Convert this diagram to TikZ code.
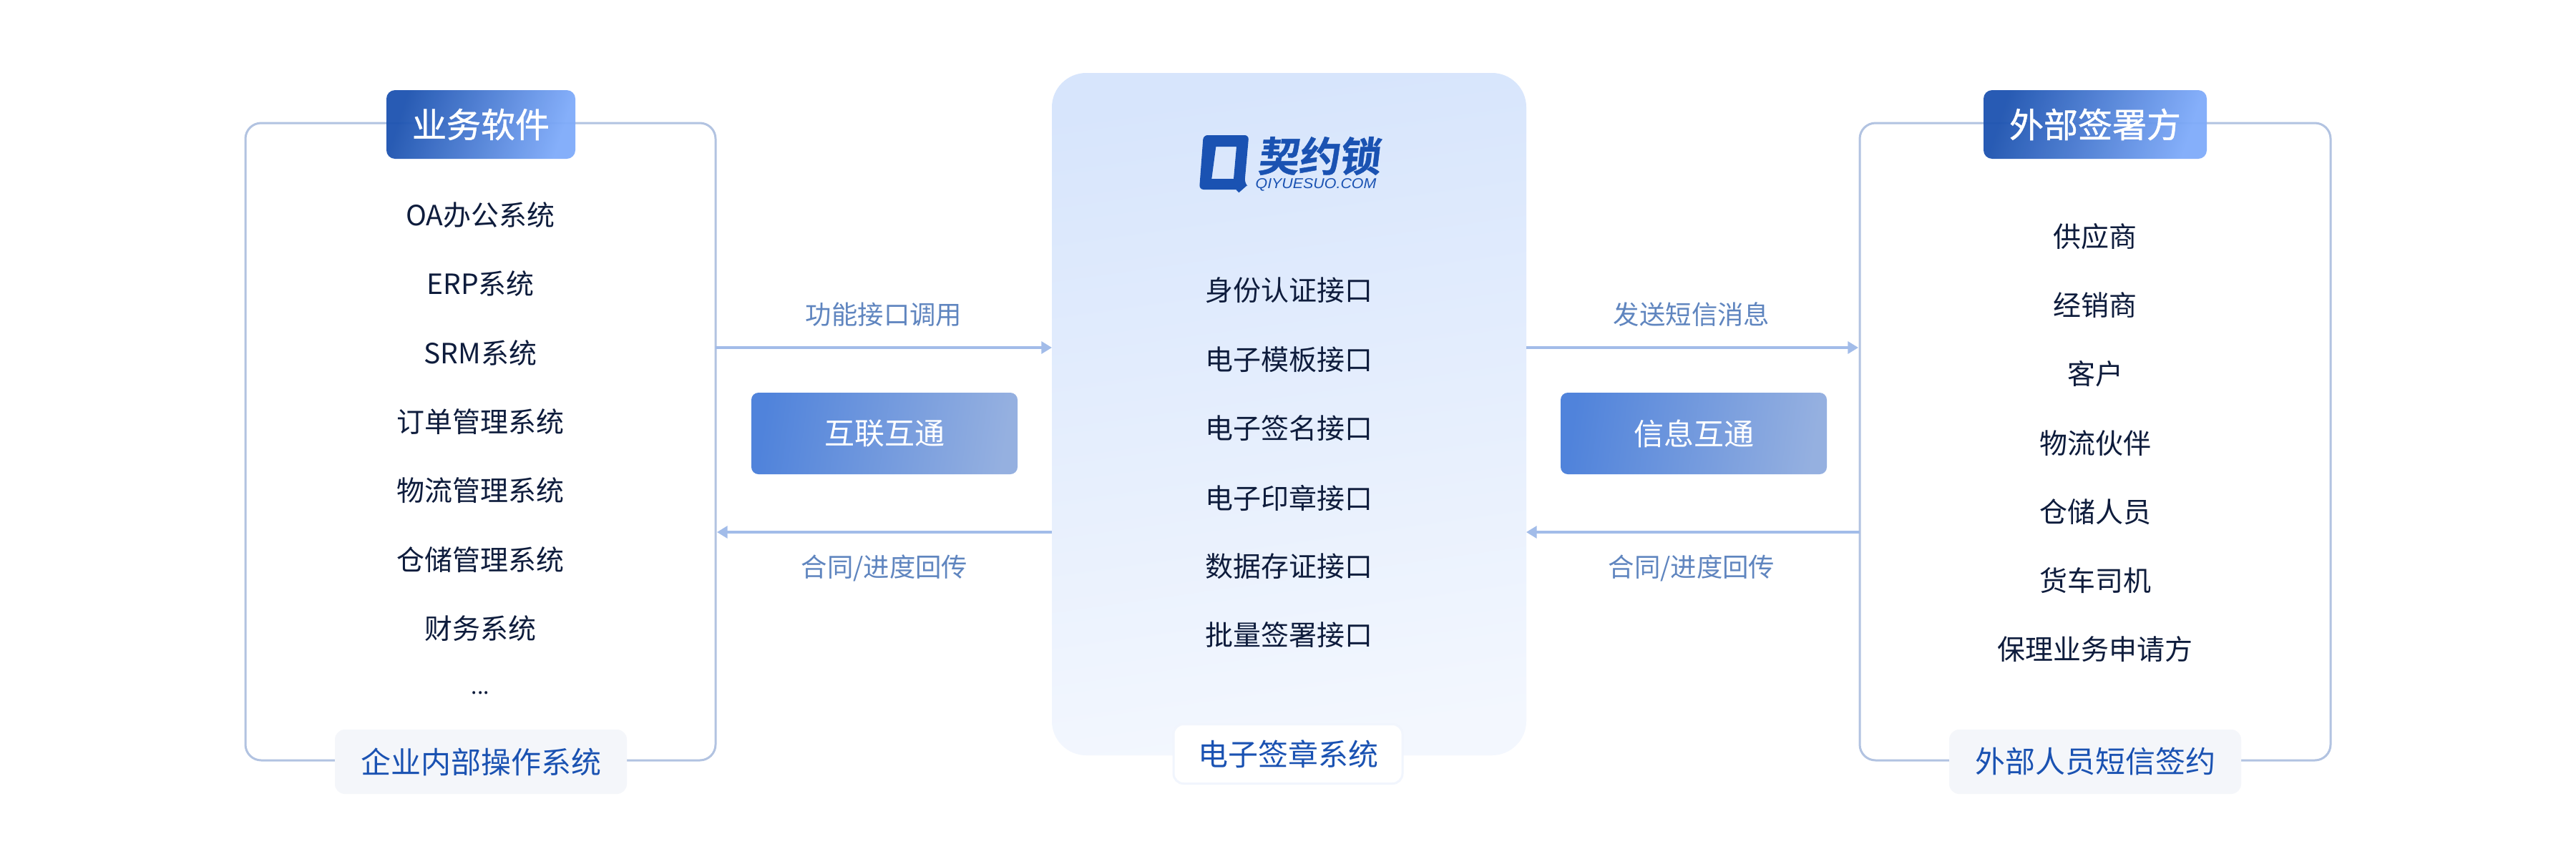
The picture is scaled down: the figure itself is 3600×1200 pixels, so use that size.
\documentclass[tikz,border=0pt]{standalone}
\usepackage{fontspec}
\usetikzlibrary{arrows.meta,calc,shadings}
\setmainfont{Noto Sans CJK SC}
\newfontfamily\cjkmed[FakeBold=1]{Noto Sans CJK SC}
\newfontfamily\logobold[FakeSlant=0.12,FakeBold=0.8]{Noto Sans CJK SC Bold}
\newfontfamily\logolat[FakeStretch=1.07]{Liberation Sans Italic}
\definecolor{panelline}{HTML}{B2C3E1}
\definecolor{arrowcol}{HTML}{A2BCE9}
\definecolor{ink}{HTML}{0E1C3C}
\definecolor{brand}{HTML}{1A52B2}
\definecolor{softlabel}{HTML}{5F85BF}
\definecolor{tagbg}{HTML}{F4F6FA}
\definecolor{tagedge}{HTML}{F1F5FD}
\newcommand{\fpx}[1]{\fontsize{\dimexpr #1pt*3/4\relax}{\dimexpr #1pt*9/10\relax}\selectfont}
\tikzset{
  every node/.style={inner sep=0pt,outer sep=0pt},
  sidepanel/.style={draw=panelline,line width=2.25pt,rounded corners=16.5pt,fill=white,minimum width=492.75pt,minimum height=668.25pt},
  centerpanel/.style={rounded corners=36pt,minimum width=497.25pt,minimum height=715.5pt,top color=D8top,bottom color=D8bot,shading angle=8},
  badge/.style={rounded corners=9pt,minimum height=72pt,left color=badgeA,right color=badgeB,shading angle=72,fill opacity=0.95,text opacity=1,text=white,font=\cjkmed\fpx{48}},
  midbox/.style={rounded corners=7.5pt,minimum width=279pt,minimum height=85.5pt,left color=midA,right color=midB,shading angle=82,text=white,font=\fpx{42}},
  tagbox/.style={rounded corners=10.5pt,minimum height=67.5pt,fill=tagbg,text=brand,font=\fpx{42}},
  centertag/.style={rounded corners=10.5pt,minimum width=240pt,minimum height=62.25pt,fill=white,draw=tagedge,line width=2.25pt,text=brand,font=\fpx{42}},
  item/.style={text=ink,font=\fpx{39}},
  linklabel/.style={text=softlabel,font=\fpx{36.4}},
  conn/.style={draw=arrowcol,line width=2.4pt,-{Triangle[length=11pt,width=12.75pt]}},
}
\definecolor{D8top}{HTML}{D7E5FC}
\definecolor{D8bot}{HTML}{F3F7FE}
\definecolor{badgeA}{HTML}{1D53B0}
\definecolor{badgeB}{HTML}{7FABFA}
\definecolor{midA}{HTML}{5083DB}
\definecolor{midB}{HTML}{95B0E0}
\begin{document}
\begin{tikzpicture}[x=0.75pt,y=-0.75pt]
\useasboundingbox (0,0) rectangle (3600,1200);
\fill[white] (0,0) rectangle (3600,1200);
% panels
\node[sidepanel] (lp) at (671.5,617.5) {};
\node[sidepanel,minimum width=493.5pt] (rp) at (2928,617.5) {};
\node[centerpanel] (cp) at (1801.5,579) {};
% badges
\node[badge,minimum width=198pt] (lb) at (672,174) {业务软件};
\node[badge,minimum width=234pt] (rb) at (2928,174) {外部签署方};
% bottom tags
\node[tagbox,minimum width=306pt] (lt) at (672,1065) {\raisebox{-0.75pt}{企业内部操作系统}};
\node[tagbox,minimum width=306pt] (rt) at (2928,1065) {\raisebox{-0.75pt}{外部人员短信签约}};
\node[centertag] (ct) at (1800,1054) {电子签章系统};
% left list
\foreach \t/\y [count=\i] in {OA办公系统/301,ERP系统/397,SRM系统/494,订单管理系统/590,物流管理系统/686,仓储管理系统/783,财务系统/879}
  \node[item] (l\i) at (671.5,\y) {\t};
\node[item,font=\fpx{30},anchor=base] (ldots) at (671.5,970) {...};
% center list
\foreach \t/\y [count=\i] in {身份认证接口/406,电子模板接口/503,电子签名接口/599,电子印章接口/696,数据存证接口/792,批量签署接口/888}
  \node[item] (c\i) at (1801.5,\y) {\t};
% right list
\foreach \t/\y [count=\i] in {供应商/331,经销商/427,客户/523,物流伙伴/620,仓储人员/716,货车司机/812,保理业务申请方/908}
  \node[item] (r\i) at (2928,\y) {\t};
% middle boxes
\node[midbox] (m1) at (1236,606) {互联互通};
\node[midbox] (m2) at (2367,606) {信息互通};
% connectors
\coordinate (upper) at (0,486);
\coordinate (lower) at (0,744);
\draw[conn] (lp.east |- upper) -- (cp.west |- upper);
\draw[conn,shorten >=1.5pt] (cp.west |- lower) -- (lp.east |- lower);
\draw[conn,shorten >=1.5pt] (cp.east |- upper) -- (rp.west |- upper);
\draw[conn] (rp.west |- lower) -- (cp.east |- lower);
% link labels
\node[linklabel] (a1) at (1235,440) {功能接口调用};
\node[linklabel] (a2) at (1236,794) {合同/进度回传};
\node[linklabel] (a3) at (2364,440) {发送短信消息};
\node[linklabel] (a4) at (2364,794) {合同/进度回传};
% logo
\fill[brand,even odd rule,rounded corners=4.5pt]
  (1681.7,189) -- (1745.3,189) -- (1739.3,256) [sharp corners] -- (1742.7,259.3) -- (1731.3,269.3) -- (1727.3,265) [rounded corners=4.5pt] -- (1676,265) -- cycle
  [sharp corners] (1699.3,205) -- (1728,205) -- (1724,250) -- (1693.3,250) -- cycle;
\node[text=brand,font=\logobold\fpx{57}] (logoa) at (1843,218) {契约锁};
\node[text=brand,font=\logolat\fpx{20}] (logob) at (1839,258) {QIYUESUO.COM};
\end{tikzpicture}
\end{document}
